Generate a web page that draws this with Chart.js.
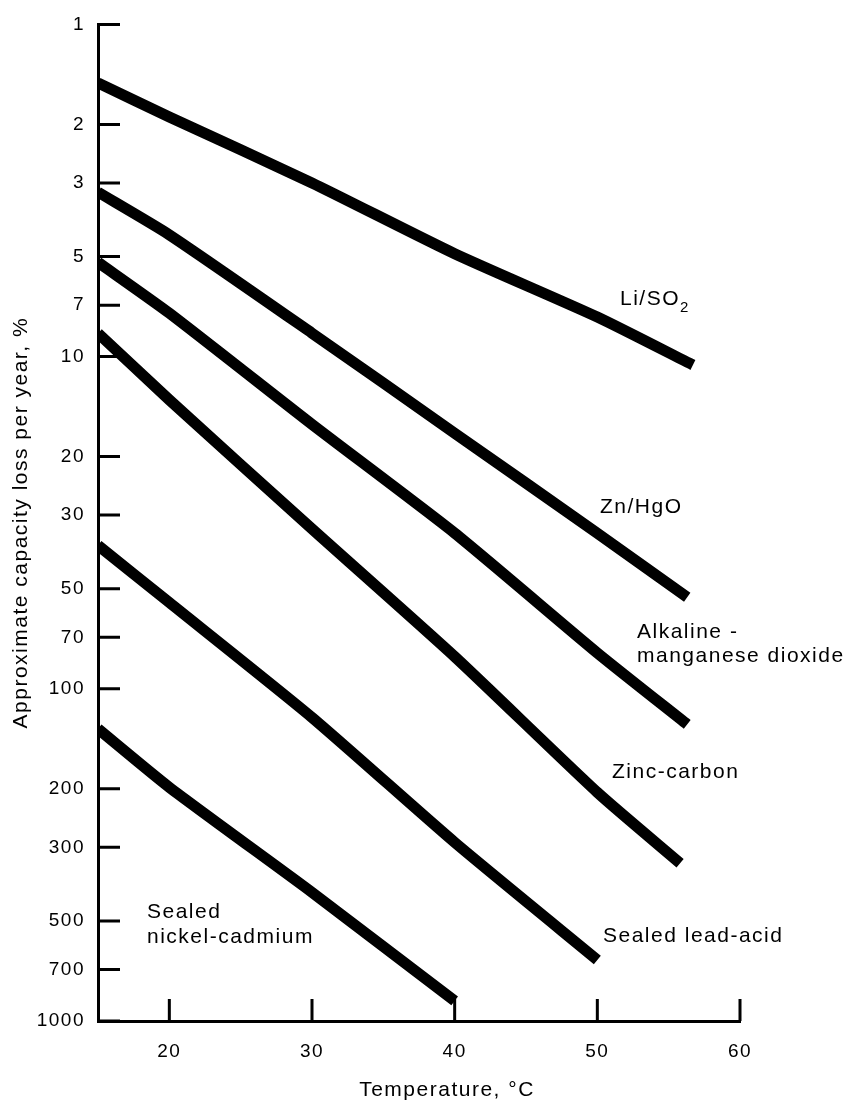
<!DOCTYPE html>
<html>
<head>
<meta charset="utf-8">
<script src="https://cdn.jsdelivr.net/npm/chart.js@4.4.1/dist/chart.umd.min.js"></script>
<style>
  html, body { margin: 0; padding: 0; background: #fff; }
  #wrap { width: 853px; height: 1107px; }
</style>
</head>
<body>
<div id="wrap"><canvas id="chart" width="853" height="1107"></canvas></div>
<script>
// Valores: temperatura (°C) y perdida de capacidad por año (%)
const tempTicks = [20, 30, 40, 50, 60];
const lossTicks = [1, 2, 3, 5, 7, 10, 20, 30, 50, 70, 100, 200, 300, 500, 700, 1000];

const liSo2Temp = [15, 20, 30, 40, 50, 56.7];
const liSo2Loss = [1.5, 1.9, 3.0, 4.9, 7.6, 10.6];

const znHgoTemp = [15, 20, 30, 40, 50, 56.3];
const znHgoLoss = [3.2, 4.3, 8.5, 17, 34, 53];

const alkalineTemp = [15, 20, 30, 40, 50, 56.3];
const alkalineLoss = [5.2, 7.4, 16, 34, 78, 128];

const zincCarbonTemp = [15, 20, 30, 40, 50, 55.8];
const zincCarbonLoss = [8.5, 13.5, 33, 80, 205, 335];

const leadAcidTemp = [15, 20, 30, 40, 50];
const leadAcidLoss = [37, 55, 122, 290, 655];

const nickelCadmiumTemp = [15, 20, 30, 40];
const nickelCadmiumLoss = [132, 198, 410, 870];

const fontFamily = "'Liberation Sans', Arial, Helvetica, sans-serif";
Chart.defaults.font.family = fontFamily;
Chart.defaults.color = '#000';

// Cada curva: linea negra gruesa, sin puntos
function series(label, temps, losses) {
    return {
        label: label,
        data: temps.map((t, i) => ({ x: t, y: losses[i] })),
        borderColor: '#000',
        borderWidth: 11,
        borderCapStyle: 'butt',
        borderJoinStyle: 'round',
        pointRadius: 0,
        tension: 0.2,
        fill: false
    };
}

// Marcas de escala hacia dentro del area del grafico
const innerTicks = {
    id: 'innerTicks',
    afterDraw(chart) {
        const { ctx, chartArea: a, scales: { x, y } } = chart;
        ctx.save();
        ctx.strokeStyle = '#000';
        ctx.lineWidth = 3;
        ctx.beginPath();
        y.ticks.forEach(t => {
            const py = y.getPixelForValue(t.value);
            ctx.moveTo(a.left, py);
            ctx.lineTo(a.left + 22, py);
        });
        x.ticks.forEach(t => {
            const px = x.getPixelForValue(t.value);
            ctx.moveTo(px, a.bottom);
            ctx.lineTo(px, a.bottom - 22);
        });
        ctx.stroke();
        ctx.restore();
    }
};

// Nombres de las curvas y titulo del eje x
const curveLabels = {
    id: 'curveLabels',
    beforeDraw(chart) {
        chart.ctx.letterSpacing = '1.5px';
    },
    afterDraw(chart) {
        const { ctx } = chart;
        ctx.save();
        ctx.fillStyle = '#000';
        ctx.textAlign = 'left';
        ctx.textBaseline = 'alphabetic';
        ctx.font = '21px ' + fontFamily;

        ctx.fillText('Li/SO', 620, 305);
        const w = ctx.measureText('Li/SO').width;
        ctx.font = '15px ' + fontFamily;
        ctx.fillText('2', 620 + w, 312);
        ctx.font = '21px ' + fontFamily;

        ctx.fillText('Zn/HgO', 600, 513);
        ctx.fillText('Alkaline -', 637, 638);
        ctx.fillText('manganese dioxide', 637, 662);
        ctx.fillText('Zinc-carbon', 612, 778);
        ctx.fillText('Sealed lead-acid', 603, 942);
        ctx.fillText('Sealed', 147, 918);
        ctx.fillText('nickel-cadmium', 147, 943);

        ctx.textAlign = 'center';
        ctx.textBaseline = 'middle';
        ctx.fillText('Temperature, °C', 447, 1090);
        ctx.restore();
    }
};

new Chart(document.getElementById('chart'), {
    type: 'line',
    data: {
        datasets: [
            series('Li/SO2', liSo2Temp, liSo2Loss),
            series('Zn/HgO', znHgoTemp, znHgoLoss),
            series('Alkaline-manganese dioxide', alkalineTemp, alkalineLoss),
            series('Zinc-carbon', zincCarbonTemp, zincCarbonLoss),
            series('Sealed lead-acid', leadAcidTemp, leadAcidLoss),
            series('Sealed nickel-cadmium', nickelCadmiumTemp, nickelCadmiumLoss)
        ]
    },
    options: {
        responsive: false,
        devicePixelRatio: 1,
        animation: false,
        events: [],
        layout: { padding: { left: 0, top: 21, right: 113, bottom: 0 } },
        plugins: {
            legend: { display: false },
            tooltip: { enabled: false }
        },
        scales: {
            x: {
                type: 'linear',
                min: 15,
                max: 60,
                afterBuildTicks: scale => { scale.ticks = tempTicks.map(v => ({ value: v })); },
                afterFit: scale => { scale.height = 86; },
                grid: { display: false, drawTicks: false },
                border: { display: true, color: '#000', width: 3 },
                ticks: {
                    autoSkip: false,
                    maxRotation: 0,
                    padding: 19,
                    font: { size: 19 },
                    callback: v => String(v)
                },
                title: { display: false }
            },
            y: {
                type: 'logarithmic',
                reverse: true,
                min: 1,
                max: 1000,
                afterBuildTicks: scale => { scale.ticks = lossTicks.map(v => ({ value: v })); },
                afterFit: scale => { scale.width = 98; },
                grid: { display: false, drawTicks: false },
                border: { display: true, color: '#000', width: 3 },
                ticks: {
                    autoSkip: false,
                    padding: 13,
                    font: { size: 19 },
                    callback: v => String(v)
                },
                title: {
                    display: true,
                    text: 'Approximate capacity loss per year, %',
                    font: { size: 21 },
                    padding: { top: 9, bottom: 0 }
                }
            }
        }
    },
    plugins: [innerTicks, curveLabels]
});
</script>
</body>
</html>
